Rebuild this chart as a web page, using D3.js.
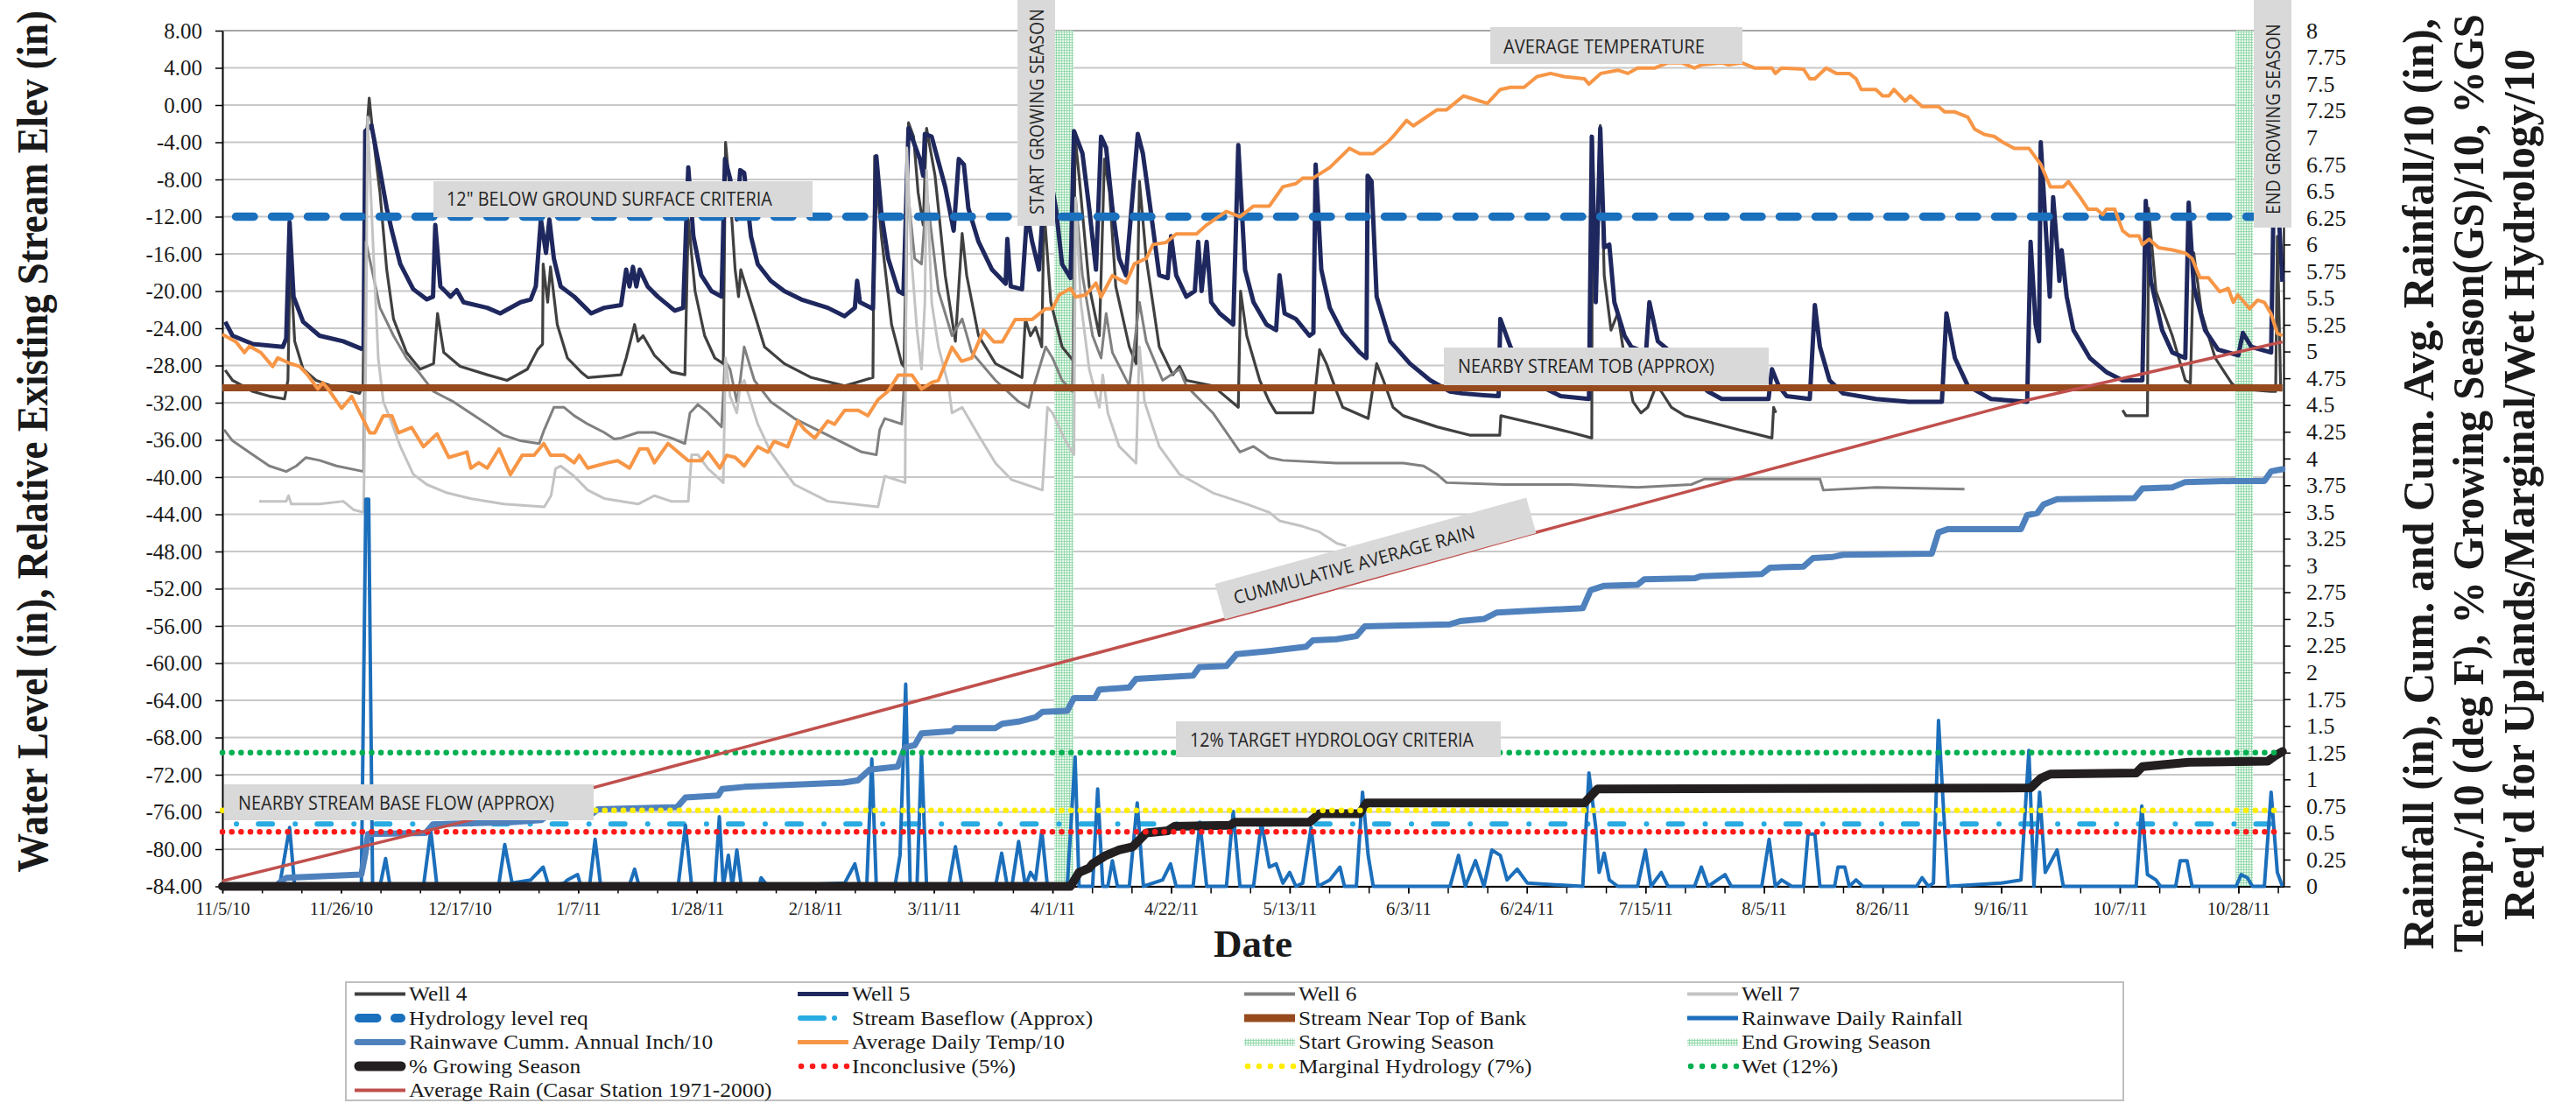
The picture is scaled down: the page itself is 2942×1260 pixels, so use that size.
<!DOCTYPE html>
<html><head><meta charset="utf-8">
<script src="https://cdn.jsdelivr.net/npm/d3@7"></script>
<style>body{margin:0;background:#fff}svg{display:block}</style>
</head><body>
<svg id="chart" width="2942" height="1260"></svg>
<script>
// ---------------- DATA (x = days since START_DATE) ----------------
const START_DATE = "11/5/10";
const END_DAY = 365;
const xTickLabels = ["11/5/10","11/26/10","12/17/10","1/7/11","1/28/11","2/18/11","3/11/11","4/1/11","4/22/11","5/13/11","6/3/11","6/24/11","7/15/11","8/5/11","8/26/11","9/16/11","10/7/11","10/28/11"];
const leftTickLabels = ["8.00","4.00","0.00","-4.00","-8.00","-12.00","-16.00","-20.00","-24.00","-28.00","-32.00","-36.00","-40.00","-44.00","-48.00","-52.00","-56.00","-60.00","-64.00","-68.00","-72.00","-76.00","-80.00","-84.00"];
const rightTickLabels = ["8","7.75","7.5","7.25","7","6.75","6.5","6.25","6","5.75","5.5","5.25","5","4.75","4.5","4.25","4","3.75","3.5","3.25","3","2.75","2.5","2.25","2","1.75","1.5","1.25","1","0.75","0.5","0.25","0"];

const well4 = [[0.5,-28.5],[1.8,-29.6],[5.4,-30.8],[8.3,-31.3],[11.0,-31.6],[11.6,-29.6],[12.0,-16.5],[12.8,-25.4],[14.3,-28.4],[16.6,-29.6],[20.2,-30.4],[24.3,-31.0],[24.9,-30.2],[25.5,-3.4],[26.0,0.75],[26.7,-3.4],[27.9,-9.4],[29.1,-17.7],[30.3,-23.0],[32.6,-26.6],[35.0,-28.4],[37.4,-27.8],[38.1,-22.4],[39.2,-26.6],[42.1,-28.1],[46.9,-29.0],[50.4,-29.6],[54.0,-28.4],[55.8,-26.3],[56.7,-25.7],[56.8,-17.1],[57.6,-21.2],[58.1,-17.4],[59.3,-23.6],[61.1,-27.2],[63.5,-28.7],[64.7,-29.3],[70.6,-29.0],[71.5,-27.2],[73.0,-23.6],[73.6,-25.4],[74.5,-24.8],[76.5,-26.9],[79.5,-28.7],[81.9,-29.0],[82.5,-12.3],[83.7,-20.0],[85.4,-24.8],[87.2,-27.2],[88.7,-27.8],[89.1,-4.0],[89.9,-9.4],[90.8,-17.7],[91.4,-20.6],[91.8,-17.7],[92.4,-18.9],[94.2,-22.4],[96.0,-26.0],[99.5,-27.8],[104.3,-29.3],[110.2,-30.2],[115.2,-29.3],[115.5,-5.5],[116.7,-14.1],[118.5,-23.6],[120.3,-27.8],[120.7,-28.1],[121.5,-1.9],[122.4,-3.4],[123.2,-9.4],[124.1,-12.9],[124.7,-2.5],[126.2,-7.6],[128.0,-18.3],[129.8,-25.4],[131.0,-13.8],[131.8,-18.3],[133.9,-24.8],[136.9,-27.8],[141.6,-29.3],[142.2,-23.0],[143.1,-24.8],[144.0,-23.9],[145.1,-26.0],[145.5,-11.1],[146.7,-21.2],[148.7,-26.0],[150.7,-27.5],[151.0,-3.4],[151.7,-7.6],[153.5,-19.5],[155.3,-24.8],[156.2,-5.8],[157.1,-9.4],[158.2,-19.5],[160.6,-26.0],[161.8,-27.8],[162.4,-8.2],[163.6,-16.5],[165.9,-26.0],[168.3,-29.0],[169.5,-28.1],[170.7,-29.6],[175.4,-30.2],[179.9,-32.5],[180.3,-20.0],[181.4,-24.8],[183.7,-29.6],[185.4,-31.9],[186.6,-33.1],[193.1,-33.1],[194.3,-26.3],[195.5,-27.8],[197.3,-30.8],[198.4,-32.5],[202.9,-33.7],[204.4,-27.8],[205.6,-29.6],[207.3,-32.5],[209.1,-33.4],[215.1,-34.6],[221.0,-35.5],[226.2,-35.5],[226.4,-33.4],[232.8,-34.3],[238.8,-35.2],[242.5,-35.8],[242.6,-3.4],[243.2,-21.2],[244.0,-2.2],[244.7,-18.3],[245.9,-24.2],[247.1,-22.4],[248.3,-27.2],[249.8,-31.9],[251.2,-33.1],[252.4,-32.5],[253.9,-30.2],[254.8,-30.8],[256.6,-32.5],[259.0,-33.4],[268.4,-34.9],[274.4,-35.8],[274.7,-32.5],[275.1,-33.1],[275.6,null],[336.5,-32.8],[337.1,-33.4],[340.9,-33.4],[341.1,-11.1],[342.4,-20.0],[345.3,-24.8],[347.6,-29.6],[348.5,-29.9],[349.1,-15.9],[350.5,-22.4],[352.9,-27.2],[355.8,-29.9],[356.9,-30.5],[362.8,-30.8],[363.6,-30.8],[363.9,-14.1],[364.5,-30.8]];

const well5 = [[0.5,-23.3],[1.8,-24.8],[5.4,-25.7],[10.7,-26.0],[11.3,-25.1],[11.9,-12.6],[12.6,-20.6],[14.3,-23.3],[17.2,-24.8],[21.4,-25.4],[24.6,-26.2],[25.0,-26.0],[25.3,-2.8],[26.4,-2.2],[27.9,-7.0],[29.1,-11.1],[30.0,-13.5],[31.5,-17.1],[33.8,-19.8],[36.2,-20.9],[37.3,-20.6],[37.7,-12.9],[38.6,-19.5],[40.4,-20.6],[41.5,-19.9],[42.7,-21.2],[46.9,-21.8],[49.2,-22.4],[52.8,-21.2],[54.6,-20.9],[55.5,-19.5],[56.4,-12.3],[57.3,-15.9],[57.9,-12.3],[58.7,-16.5],[59.9,-19.5],[62.3,-20.6],[65.3,-22.4],[67.6,-21.8],[70.6,-21.5],[71.5,-17.7],[72.1,-19.5],[72.7,-17.4],[73.3,-19.5],[73.9,-17.7],[75.3,-19.5],[77.1,-20.6],[80.1,-22.1],[81.6,-21.8],[82.5,-6.7],[83.4,-14.1],[84.8,-18.3],[86.6,-20.0],[88.4,-20.6],[89.0,-5.8],[89.9,-7.9],[91.1,-12.3],[91.7,-7.0],[92.4,-7.3],[93.6,-14.1],[94.8,-17.1],[97.1,-18.9],[99.5,-20.0],[102.5,-20.9],[107.2,-21.8],[110.2,-22.7],[112.0,-21.8],[112.4,-18.9],[112.9,-21.2],[115.2,-21.9],[115.8,-5.5],[116.7,-11.7],[117.9,-16.5],[119.7,-20.0],[120.6,-20.3],[121.5,-2.5],[122.6,-4.3],[123.5,-5.8],[124.1,-7.6],[124.4,-3.1],[125.6,-3.4],[126.8,-6.1],[128.0,-8.8],[129.5,-13.5],[130.4,-5.8],[131.3,-6.4],[132.1,-11.1],[133.9,-14.7],[136.3,-17.7],[138.7,-19.2],[139.0,-14.4],[139.6,-19.5],[141.6,-19.8],[142.5,-11.7],[143.4,-14.7],[144.6,-17.7],[145.5,-9.4],[146.4,-7.0],[147.6,-11.1],[148.7,-17.1],[150.2,-18.6],[150.8,-2.8],[152.3,-5.2],[153.5,-11.1],[154.7,-17.7],[155.6,-3.4],[156.5,-4.6],[157.6,-11.1],[158.8,-16.5],[160.0,-18.3],[162.1,-3.1],[163.0,-5.2],[164.2,-10.5],[165.9,-18.3],[167.4,-18.6],[168.0,-14.1],[168.9,-18.3],[170.7,-20.6],[172.2,-20.0],[172.8,-14.7],[173.4,-20.0],[174.3,-14.7],[175.1,-21.2],[176.6,-22.4],[179.0,-23.6],[179.9,-4.3],[181.1,-17.7],[182.6,-21.2],[184.9,-23.6],[186.6,-24.2],[187.2,-18.3],[188.1,-22.4],[190.1,-23.0],[192.5,-24.8],[193.2,-24.5],[193.6,-6.4],[194.6,-17.7],[196.1,-21.8],[198.4,-24.5],[201.4,-26.6],[202.6,-27.2],[202.8,-7.6],[203.5,-8.2],[204.4,-20.6],[206.8,-25.4],[210.3,-27.8],[213.9,-29.6],[217.4,-30.8],[219.5,-31.0],[223.4,-31.2],[226.0,-31.3],[226.3,-23.0],[228.1,-26.0],[230.5,-28.4],[234.0,-30.4],[237.0,-31.3],[242.0,-31.6],[242.5,-3.4],[243.2,-21.2],[244.0,-2.5],[244.7,-15.3],[245.6,-15.0],[246.5,-21.2],[248.3,-24.8],[249.5,-26.0],[252.1,-26.6],[252.7,-21.2],[254.2,-25.4],[256.6,-26.6],[259.5,-28.9],[263.1,-30.8],[265.5,-31.6],[273.8,-31.6],[274.4,-28.4],[275.6,-30.2],[277.0,-31.3],[281.1,-31.6],[282.0,-21.5],[282.9,-26.0],[284.6,-29.6],[287.0,-31.0],[292.8,-31.6],[298.6,-31.9],[304.5,-31.9],[305.3,-22.4],[306.8,-27.2],[309.1,-30.2],[313.2,-31.6],[319.6,-31.9],[320.2,-14.7],[321.1,-23.6],[321.7,-25.4],[322.0,-4.0],[322.8,-12.3],[323.6,-20.6],[324.2,-9.9],[324.9,-15.3],[325.3,-18.9],[325.7,-15.6],[326.6,-20.6],[327.8,-24.2],[330.7,-27.2],[333.6,-28.7],[336.5,-29.6],[340.0,-29.6],[340.6,-10.3],[341.5,-18.9],[343.5,-24.2],[345.3,-26.6],[347.6,-27.2],[348.2,-10.5],[349.1,-19.5],[351.1,-24.2],[353.4,-26.3],[357.0,-26.9],[357.8,-24.5],[359.3,-26.0],[362.8,-26.6],[363.3,-8.0],[363.9,-9.0],[364.8,-19.0]];

const well6 = [[0.3,-34.9],[1.8,-36.1],[5.4,-37.6],[8.3,-38.8],[11.3,-39.4],[13.1,-38.8],[14.8,-37.9],[17.2,-38.2],[20.2,-38.8],[25.0,-39.4],[25.4,-14.7],[26.7,-18.3],[27.9,-21.8],[30.3,-24.8],[32.6,-27.2],[35.0,-28.9],[37.4,-30.8],[40.9,-31.9],[43.9,-33.1],[46.9,-34.3],[49.8,-35.5],[52.8,-36.1],[56.1,-36.4],[57.0,-34.9],[58.7,-32.5],[60.5,-32.5],[62.3,-33.4],[64.7,-34.3],[67.6,-35.2],[69.4,-35.9],[70.6,-35.8],[73.6,-35.2],[76.5,-35.2],[79.5,-35.8],[81.9,-36.4],[82.8,-33.1],[84.2,-32.2],[86.0,-33.1],[88.4,-34.6],[89.0,-27.5],[89.9,-28.4],[91.1,-31.9],[91.7,-29.6],[92.4,-26.0],[94.2,-29.6],[97.1,-31.9],[101.3,-33.7],[107.2,-35.5],[113.2,-37.3],[115.8,-37.6],[116.4,-34.9],[117.3,-33.7],[120.3,-34.3],[120.9,-28.1],[121.3,-8.8],[122.6,-16.5],[123.8,-17.1],[124.7,-9.4],[126.8,-20.0],[129.2,-24.8],[131.0,-23.0],[132.7,-26.6],[136.9,-29.6],[141.0,-31.9],[142.8,-32.5],[143.4,-30.8],[145.8,-26.0],[147.0,-27.2],[148.7,-29.6],[150.5,-30.8],[151.1,-10.0],[152.3,-18.3],[154.1,-24.8],[155.6,-27.2],[156.5,-22.4],[157.6,-26.6],[160.6,-30.2],[162.4,-21.2],[163.6,-25.4],[166.5,-29.6],[169.5,-28.4],[170.7,-30.2],[175.4,-33.1],[180.2,-37.3],[182.6,-36.7],[185.4,-37.9],[187.8,-38.2],[197.3,-38.5],[209.1,-38.5],[212.7,-38.8],[215.1,-39.7],[216.8,-40.6],[226.9,-40.8],[238.8,-40.8],[250.6,-41.1],[260.1,-40.8],[262.5,-40.2],[278.4,-40.2],[282.9,-40.2],[283.5,-41.4],[292.8,-41.1],[308.5,-41.3]];

const well7 = [[6.5,-42.6],[11.3,-42.6],[11.7,-42.0],[12.2,-42.9],[17.2,-42.9],[21.4,-42.6],[23.2,-43.5],[25.0,-43.8],[25.4,-27.2],[25.7,-1.3],[26.7,-15.3],[27.6,-27.2],[28.5,-31.9],[29.7,-33.7],[31.5,-36.7],[33.8,-39.7],[36.2,-40.8],[39.8,-41.7],[43.9,-42.3],[49.8,-42.9],[57.0,-43.2],[58.2,-42.0],[59.0,-39.1],[59.9,-38.8],[62.3,-39.9],[64.7,-41.4],[67.6,-42.3],[73.6,-42.9],[76.5,-42.0],[79.5,-42.6],[82.5,-42.6],[83.1,-37.6],[84.2,-37.6],[86.0,-39.1],[88.7,-40.6],[89.1,-27.2],[89.9,-31.3],[91.1,-33.1],[91.7,-30.2],[92.4,-29.6],[94.8,-34.3],[97.1,-37.3],[101.3,-40.8],[107.2,-42.6],[116.1,-43.2],[117.3,-39.9],[120.9,-40.6],[121.2,-4.6],[122.1,-17.1],[123.0,-24.2],[123.8,-28.4],[124.4,-21.2],[124.7,-7.0],[125.6,-21.2],[126.8,-26.0],[128.6,-30.2],[129.2,-33.1],[131.0,-32.5],[133.9,-35.5],[136.9,-38.5],[139.8,-40.3],[145.2,-41.4],[146.1,-32.5],[147.0,-33.1],[149.3,-36.1],[150.8,-37.6],[151.1,-10.0],[152.0,-21.2],[153.5,-28.4],[155.3,-32.5],[155.9,-29.0],[156.8,-33.1],[158.8,-36.7],[161.8,-38.5],[162.4,-26.0],[163.3,-31.9],[165.9,-36.7],[169.5,-39.7],[175.4,-41.7],[181.4,-42.9],[185.4,-43.8],[187.2,-44.7],[191.3,-45.3],[194.3,-45.9],[197.3,-47.1],[199.0,-47.4]];

const hydrologyReq = [[0,-12],[364.8,-12]];
const streamBaseflow = [[0,-77.3],[364.8,-77.3]];
const streamTopOfBank = [[0,-30.4],[364.8,-30.4]];

const dailyRain = [[10.1,0],[11.9,0.55],[12.8,0],[24.6,0],[25.4,3.62],[25.9,3.62],[26.6,0],[27.9,0],[28.9,0.26],[29.7,0],[35.6,0],[36.9,0.52],[38.0,0],[48.9,0],[50.0,0.39],[51.3,0.03],[54.6,0.06],[56.8,0.18],[57.8,0],[60.5,0.03],[61.1,0.06],[62.9,0.11],[63.5,0],[65.0,0],[66.0,0.44],[67.0,0],[72.0,0],[73.0,0.16],[73.8,0],[80.7,0],[82.0,0.57],[83.1,0],[87.2,0],[88.0,0.65],[88.7,0],[89.6,0.29],[90.3,0],[91.1,0.34],[91.9,0],[95.0,0],[95.4,0.08],[96.6,0],[110.2,0.03],[112.0,0.21],[112.9,0],[114.1,0],[115.0,1.19],[115.8,0],[119.1,0],[120.0,0.29],[121.0,1.89],[121.8,0],[123.0,0],[123.8,1.24],[124.7,0],[128.6,0],[129.8,0.37],[131.0,0],[136.9,0],[138.0,0.31],[139.0,0],[139.8,0],[141.0,0.42],[142.2,0],[143.1,0.13],[144.0,0.06],[145.1,0.52],[146.1,0],[149.6,0],[151.0,1.21],[151.7,0],[154.1,0],[155.0,0.91],[155.9,0],[156.8,0],[157.6,0.24],[158.5,0],[160.6,0],[162.0,0.78],[163.1,0],[166.5,0.06],[167.9,0.21],[168.9,0],[171.9,0],[173.1,0.60],[174.3,0],[177.8,0],[179.0,0.70],[180.2,0],[182.6,0],[184.0,0.60],[185.4,0.18],[186.6,0.21],[187.8,0.03],[189.0,0.13],[190.1,0],[191.3,0.03],[192.8,0.55],[194.0,0],[196.1,0.06],[197.9,0.18],[198.7,0],[200.8,0],[201.9,0.88],[202.9,0.29],[203.8,0],[217.4,0],[218.9,0.29],[220.1,0],[221.9,0.24],[223.4,0],[224.8,0.34],[226.3,0.29],[227.5,0.06],[229.3,0.16],[231.1,0.03],[240.9,0],[242.0,1.06],[243.2,0.55],[243.8,0.13],[244.7,0.31],[245.6,0.06],[247.1,0],[250.6,0],[252.0,0.34],[253.0,0],[254.8,0.13],[256.0,0],[260.7,0],[261.9,0.18],[263.1,0],[266.1,0.11],[267.2,0],[272.6,0],[273.9,0.44],[275.0,0],[276.1,0.06],[277.9,0],[280.0,0],[280.8,0.49],[282.0,0.49],[282.9,0],[285.5,0],[286.1,0.18],[287.3,0.18],[288.1,0],[289.3,0.06],[290.5,0],[300.0,0],[301.0,0.08],[302.1,0],[303.0,0.03],[303.9,1.55],[304.7,0.80],[305.6,0],[315.0,0.03],[318.5,0.06],[319.9,1.27],[320.8,0],[321.8,0.88],[322.8,0.13],[324.9,0.34],[326.0,0],[338.9,0],[339.9,0.75],[340.9,0.11],[342.4,0.06],[343.2,0],[345.9,0],[346.7,0.24],[347.9,0.24],[348.8,0],[356.6,0],[357.5,0.11],[358.6,0.08],[359.5,0],[361.6,0],[362.8,0.88],[363.9,0.13],[364.8,0]];

const cummRain = [[10.0,0.03],[11.3,0.08],[24.6,0.11],[25.3,0.30],[25.8,0.49],[36.0,0.50],[37.3,0.58],[51.0,0.60],[56.5,0.62],[57.5,0.66],[65.5,0.68],[66.5,0.72],[80.5,0.74],[82.0,0.83],[87.8,0.85],[88.5,0.91],[92.4,0.93],[110.0,0.97],[112.5,0.99],[114.6,1.09],[119.6,1.12],[120.3,1.22],[120.9,1.30],[122.6,1.32],[123.8,1.43],[129.2,1.45],[129.8,1.48],[136.9,1.48],[138.1,1.52],[141.0,1.54],[144.0,1.58],[145.2,1.63],[149.6,1.64],[150.8,1.76],[154.5,1.76],[155.3,1.84],[160.6,1.86],[161.8,1.94],[171.9,1.97],[173.0,2.05],[177.8,2.06],[179.6,2.17],[185.4,2.20],[191.9,2.24],[193.1,2.30],[197.3,2.31],[200.8,2.34],[202.3,2.43],[217.4,2.45],[219.2,2.48],[223.4,2.50],[225.7,2.56],[232.8,2.58],[240.9,2.60],[242.3,2.77],[244.7,2.81],[250.6,2.82],[251.8,2.87],[260.7,2.88],[261.9,2.90],[272.6,2.92],[274.1,2.98],[280.0,2.99],[281.7,3.07],[285.2,3.08],[287.0,3.10],[302.7,3.11],[303.9,3.31],[305.6,3.34],[318.5,3.34],[319.6,3.47],[321.4,3.49],[322.5,3.57],[324.9,3.62],[338.6,3.63],[340.0,3.72],[345.3,3.73],[347.6,3.78],[356.0,3.79],[361.6,3.79],[362.8,3.88],[364.8,3.90]];

const avgTemp = [[0.0,5.16],[2.4,5.09],[3.9,4.99],[4.8,5.05],[6.8,4.99],[8.9,4.86],[9.8,4.94],[11.9,4.89],[13.7,4.86],[15.1,4.78],[16.9,4.65],[17.8,4.71],[19.0,4.63],[21.1,4.47],[22.9,4.58],[24.9,4.37],[26.1,4.24],[27.0,4.24],[28.5,4.40],[30.0,4.40],[31.2,4.24],[33.5,4.29],[35.6,4.11],[38.0,4.23],[40.1,4.01],[43.3,4.06],[44.0,3.91],[45.4,3.96],[46.9,3.91],[49.0,4.09],[51.0,3.85],[53.1,4.03],[55.2,4.03],[56.9,4.14],[58.1,4.03],[60.5,4.03],[62.3,3.96],[63.2,4.03],[64.7,3.91],[68.2,3.96],[70.0,3.98],[72.1,3.91],[73.9,4.09],[75.3,4.09],[76.5,3.96],[78.9,4.14],[80.7,4.06],[82.5,3.98],[84.8,3.98],[86.0,4.06],[88.1,3.91],[89.3,4.03],[90.8,4.01],[92.4,3.93],[94.8,4.11],[96.6,4.06],[97.7,4.16],[100.1,4.11],[101.9,4.35],[103.1,4.27],[104.9,4.19],[107.2,4.35],[108.4,4.32],[110.2,4.45],[112.6,4.45],[114.3,4.40],[116.1,4.55],[117.9,4.63],[119.7,4.78],[122.1,4.78],[123.8,4.65],[125.6,4.71],[126.8,4.73],[129.2,5.04],[130.9,4.91],[132.7,4.94],[134.8,5.20],[136.6,5.09],[138.1,5.09],[140.4,5.30],[143.4,5.30],[145.8,5.40],[147.0,5.40],[148.2,5.53],[150.2,5.59],[151.1,5.51],[152.9,5.53],[154.7,5.64],[155.6,5.51],[157.6,5.71],[160.0,5.64],[161.5,5.82],[163.6,5.87],[164.8,6.00],[167.1,6.02],[168.9,6.10],[172.5,6.10],[174.2,6.18],[177.8,6.31],[180.2,6.26],[182.6,6.36],[185.4,6.36],[187.8,6.54],[190.1,6.57],[191.3,6.62],[193.1,6.62],[196.1,6.72],[199.6,6.90],[201.4,6.85],[203.8,6.85],[206.2,6.95],[207.3,7.01],[209.7,7.16],[210.9,7.11],[215.1,7.26],[216.8,7.26],[219.8,7.39],[221.0,7.37],[224.0,7.32],[226.3,7.45],[228.1,7.47],[230.5,7.47],[232.8,7.57],[235.2,7.60],[237.6,7.57],[241.2,7.55],[242.0,7.50],[244.1,7.60],[247.1,7.63],[248.9,7.60],[250.6,7.65],[253.6,7.65],[256.0,7.70],[258.4,7.70],[260.7,7.65],[261.9,7.68],[265.5,7.70],[266.7,7.68],[269.0,7.70],[271.4,7.65],[274.4,7.65],[275.0,7.60],[276.1,7.65],[280.0,7.64],[281.1,7.55],[282.0,7.55],[284.0,7.65],[285.8,7.60],[288.1,7.60],[289.3,7.55],[290.2,7.45],[292.8,7.45],[294.0,7.39],[295.1,7.39],[296.0,7.45],[298.0,7.34],[298.9,7.39],[301.0,7.29],[303.9,7.29],[305.0,7.24],[306.8,7.24],[309.1,7.19],[310.3,7.08],[312.0,7.03],[313.8,7.01],[315.5,6.95],[317.3,6.90],[319.9,6.90],[322.0,6.75],[323.7,6.54],[326.0,6.54],[326.9,6.59],[329.0,6.44],[330.4,6.33],[331.9,6.33],[333.0,6.28],[333.6,6.33],[335.1,6.33],[336.5,6.13],[337.7,6.08],[339.4,6.08],[340.0,6.00],[341.2,6.05],[342.9,5.97],[345.3,5.95],[347.6,5.92],[348.8,5.87],[350.2,5.69],[351.7,5.69],[353.7,5.56],[355.2,5.59],[356.1,5.46],[356.9,5.53],[359.0,5.40],[360.4,5.48],[361.6,5.46],[362.8,5.35],[363.9,5.17],[364.8,5.15]];

const pctGrowingSeason = [[0,0],[150.2,0],[151.7,0.13],[153.5,0.17],[154.1,0.21],[156.5,0.29],[158.8,0.34],[161.2,0.37],[162.5,0.44],[163.6,0.50],[167.4,0.52],[168.6,0.56],[178.4,0.57],[179.3,0.60],[192.5,0.60],[194.3,0.68],[201.4,0.68],[202.6,0.78],[241.2,0.78],[243.5,0.91],[320.2,0.92],[322.0,1.01],[323.7,1.05],[338.9,1.06],[340.0,1.12],[348.2,1.16],[362.2,1.17],[363.5,1.22],[364.8,1.26]];

const inconclusive5 = [[0,0.51],[363.9,0.51]];
const marginal7 = [[0,0.71],[363.9,0.71]];
const wet12 = [[0,1.25],[363.9,1.25]];
const avgRainCasar = [[0,0.05],[47,0.66],[92.4,1.30],[139.8,1.97],[185.4,2.61],[232,3.30],[278.4,3.96],[320,4.55],[364.8,5.09]];

const startGrowingBand = [147.3,150.7];
const endGrowingBand = [356.5,359.6];

const legendNames = ["Well 4","Well 5","Well 6","Well 7","Hydrology level req","Stream Baseflow (Approx)","Stream Near Top of Bank","Rainwave Daily Rainfall","Rainwave Cumm. Annual Inch/10","Average Daily Temp/10","Start Growing Season","End Growing Season","% Growing Season","Inconclusive (5%)","Marginal Hydrology (7%)","Wet (12%)","Average Rain (Casar Station 1971-2000)"];

// ---------------- CHART ----------------
const svg = d3.select("#chart");
const M = {left:254, right:2608, top:35, bottom:1012.5};
const parse = d3.utcParse("%m/%d/%y");
const t0 = parse(START_DATE);
const toDate = d => new Date(t0.getTime() + d*864e5);
const x = d3.scaleUtc().domain([t0, toDate(END_DAY)]).range([M.left, M.right]);
const yL = d3.scaleLinear().domain([-84, 8]).range([M.bottom, M.top]);
const yR = d3.scaleLinear().domain([0, 8]).range([M.bottom, M.top]);
const SERIF = "'Liberation Serif','Times New Roman',serif";
const SANS = "'Open Sans','Noto Sans',sans-serif";

const defs = svg.append("defs");
const pat = defs.append("pattern").attr("id","gsHatch").attr("width",3).attr("height",3).attr("patternUnits","userSpaceOnUse");
pat.append("rect").attr("width",3).attr("height",3).attr("fill","#e9f8ee");
pat.append("path").attr("d","M0 0.5H3M0.5 0V3").attr("stroke","#7fd19b").attr("stroke-width",0.7);

// gridlines
const leftVals = leftTickLabels.map(Number);
svg.append("g").selectAll("line").data(leftVals).join("line")
  .attr("x1",M.left).attr("x2",M.right)
  .attr("y1",d=>yL(d)).attr("y2",d=>yL(d))
  .attr("stroke",d=>d===8?"#a6a6a6":"#c8c8c8").attr("stroke-width",2);

// growing season bands
[startGrowingBand, endGrowingBand].forEach(b=>{
  svg.append("rect").attr("x",x(toDate(b[0]))).attr("y",M.top)
    .attr("width",x(toDate(b[1]))-x(toDate(b[0]))).attr("height",M.bottom-M.top)
    .attr("fill","url(#gsHatch)");
});

// axes
const axL = svg.append("g").attr("transform",`translate(${M.left},0)`)
  .call(d3.axisLeft(yL).tickValues(leftVals).tickFormat((d,i)=>leftTickLabels[i]).tickSize(8).tickSizeOuter(0).tickPadding(15));
const rightVals = rightTickLabels.map(Number);
const axR = svg.append("g").attr("transform",`translate(${M.right},0)`)
  .call(d3.axisRight(yR).tickValues(rightVals).tickFormat((d,i)=>rightTickLabels[i]).tickSize(8).tickSizeOuter(0).tickPadding(18));
const minorDays = d3.range(0, END_DAY, 7);
const axMinor = svg.append("g").attr("transform",`translate(0,${M.bottom})`)
  .call(d3.axisBottom(x).tickValues(minorDays.map(toDate)).tickFormat("").tickSize(8).tickSizeOuter(0));
const axB = svg.append("g").attr("transform",`translate(0,${M.bottom})`)
  .call(d3.axisBottom(x).tickValues(xTickLabels.map(parse)).tickFormat(d3.utcFormat("%-m/%-d/%y")).tickSize(8).tickSizeOuter(0));
[axL,axR,axMinor,axB].forEach(a=>{
  a.select(".domain").attr("stroke","#000").attr("stroke-width",2);
  a.selectAll(".tick line").attr("stroke","#000").attr("stroke-width",1.5);
});
axL.selectAll("text").attr("font-family",SERIF).attr("font-size",25).attr("fill","#1a1a1a");
axR.selectAll("text").attr("font-family",SERIF).attr("font-size",26).attr("fill","#1a1a1a");
axB.selectAll("text").attr("font-family",SERIF).attr("font-size",20.5).attr("fill","#1a1a1a").attr("y",32).attr("dy",0);

// series
const lineL = d3.line().defined(d=>d[1]!=null).x(d=>x(toDate(d[0]))).y(d=>yL(d[1]));
const lineR = d3.line().defined(d=>d[1]!=null).x(d=>x(toDate(d[0]))).y(d=>yR(d[1]));
const series = [
  {d:well4, g:lineL, c:"#404040", w:3.2},
  {d:well5, g:lineL, c:"#1f285e", w:5},
  {d:well6, g:lineL, c:"#808080", w:3},
  {d:well7, g:lineL, c:"#c3c3c3", w:3},
  {d:hydrologyReq, g:lineL, c:"#1a70bd", w:9.5, dash:"20.5 20.5", off:25.5, cap:"round"},
  {d:streamBaseflow, g:lineL, c:"#29abe2", w:6, dash:"16 26 0.1 25", off:26, cap:"round"},
  {d:streamTopOfBank, g:lineL, c:"#974a1e", w:8},
  {d:dailyRain, g:lineR, c:"#1c6fbb", w:4},
  {d:cummRain, g:lineR, c:"#4f81bd", w:7, cap:"round"},
  {d:avgTemp, g:lineR, c:"#f79646", w:4},
  {d:pctGrowingSeason, g:lineR, c:"#231f20", w:10, cap:"round"},
  {d:inconclusive5, g:lineR, c:"#ff1a1a", w:6.5, dash:"0.1 10.55", cap:"round"},
  {d:marginal7, g:lineR, c:"#ffee00", w:6.5, dash:"0.1 10.55", cap:"round"},
  {d:wet12, g:lineR, c:"#00b050", w:6.5, dash:"0.1 10.55", cap:"round"},
  {d:avgRainCasar, g:lineR, c:"#c0504d", w:3.5}
];
series.forEach(s=>{
  svg.append("path").datum(s.d).attr("d",s.g).attr("fill","none")
    .attr("stroke",s.c).attr("stroke-width",s.w)
    .attr("stroke-linejoin","round").attr("stroke-linecap",s.cap||"butt")
    .attr("stroke-dasharray",s.dash||null).attr("stroke-dashoffset",s.off||0);
});

// fit a text to a target length by font size, then restore glyph height with a scale
function fitText(g, txt, len, size, family, weight, anchor){
  const t = g.append("text").text(txt).attr("font-family",family).attr("font-size",size)
    .attr("font-weight",weight||"normal").attr("text-anchor",anchor||"start").attr("fill","#262626");
  const L = t.node().getComputedTextLength();
  const f = size*len/L;
  t.attr("font-size",f).attr("transform",`scale(1,${size/f})`);
  return t;
}

// annotation boxes
const BOX="#d9d9d9";
function annot(r, txt, tx, ty, len){
  svg.append("rect").attr("x",r[0]).attr("y",r[1]).attr("width",r[2]-r[0]).attr("height",r[3]-r[1]).attr("fill",BOX);
  const g = svg.append("g").attr("transform",`translate(${tx},${ty})`);
  fitText(g, txt, len, 21, SANS);
}
annot([495,207,928,248],'12" BELOW GROUND SURFACE CRITERIA',510,235,372);
annot([1702,31,1990,73],"AVERAGE TEMPERATURE",1717,61,230);
annot([1649,397,2020,440],"NEARBY STREAM TOB (APPROX)",1665,426,293);
annot([1343,824,1714,865],"12% TARGET HYDROLOGY CRITERIA",1359,853,324);
annot([256,896,678,937],"NEARBY STREAM BASE FLOW (APPROX)",272,925,361);
// rotated cumulative box
const cg = svg.append("g").attr("transform","translate(1571,638) rotate(-15.5)");
cg.append("rect").attr("x",-184.5).attr("y",-21).attr("width",369).attr("height",42).attr("fill",BOX);
fitText(cg.append("g").attr("transform","translate(-168,8)"), "CUMMULATIVE AVERAGE RAIN", 285, 21, SANS);
// vertical growing-season labels
function vAnnot(r, txt, bx, by, len){
  svg.append("rect").attr("x",r[0]).attr("y",r[1]).attr("width",r[2]-r[0]).attr("height",r[3]-r[1]).attr("fill",BOX);
  const g = svg.append("g").attr("transform",`translate(${bx},${by}) rotate(-90)`);
  fitText(g, txt, len, 21, SANS);
}
vAnnot([1162,0,1205,258],"START GROWING SEASON",1192,245,235);
vAnnot([2574,0,2617,260],"END GROWING SEASON",2604,245,218);

// axis titles
fitText(svg.append("g").attr("transform","translate(54,504.5) rotate(-90)"),
  "Water Level (in), Relative Existing Stream Elev (in)", 985, 50, SERIF, "bold", "middle").attr("fill","#1a1a1a");
const rTitle = [
  ["Rainfall (in), Cum. and Cum. Avg. Rainfall/10 (in),",2779,553,1064],
  ["Temp./10 (deg F), % Growing Season(GS)/10, %GS",2836,552,1072],
  ["Req'd for Uplands/Marginal/Wet Hydrology/10",2894,553.5,995]
];
rTitle.forEach(t=>{
  fitText(svg.append("g").attr("transform",`translate(${t[1]},${t[2]}) rotate(-90)`), t[0], t[3], 50, SERIF, "bold", "middle").attr("fill","#1a1a1a");
});
svg.append("text").attr("x",(M.left+M.right)/2).attr("y",1093).attr("text-anchor","middle")
  .attr("font-family",SERIF).attr("font-weight","bold").attr("font-size",45).attr("fill","#1a1a1a").text("Date");

// legend
const lg = svg.append("g");
lg.append("rect").attr("x",395).attr("y",1122).attr("width",2030).attr("height",135)
  .attr("fill","#fff").attr("stroke","#bfbfbf").attr("stroke-width",2);
const colX = [405,911,1421,1927], rowY = [1135.5,1163,1190.5,1218,1245.5];
const legStyle = {
  "Well 4":{c:"#404040",w:4},
  "Well 5":{c:"#1f285e",w:5},
  "Well 6":{c:"#808080",w:4},
  "Well 7":{c:"#c3c3c3",w:4},
  "Hydrology level req":{c:"#1a70bd",w:10,dash:"20.5 20.5",cap:"round",x0:5,x1:53},
  "Stream Baseflow (Approx)":{c:"#29abe2",w:6,dash:"27 12 0.1 50",cap:"round",x0:3,x1:46},
  "Stream Near Top of Bank":{c:"#974a1e",w:9},
  "Rainwave Daily Rainfall":{c:"#1c6fbb",w:5},
  "Rainwave Cumm. Annual Inch/10":{c:"#4f81bd",w:7,cap:"round",x0:3,x1:55},
  "Average Daily Temp/10":{c:"#f79646",w:5},
  "Start Growing Season":{hatch:true},
  "End Growing Season":{hatch:true},
  "% Growing Season":{c:"#231f20",w:11,cap:"round",x0:5,x1:53},
  "Inconclusive (5%)":{c:"#ff1a1a",w:6.5,dash:"0.1 12.9",cap:"round",x0:4,x1:56},
  "Marginal Hydrology (7%)":{c:"#ffee00",w:6.5,dash:"0.1 12.9",cap:"round",x0:4,x1:56},
  "Wet (12%)":{c:"#00b050",w:6.5,dash:"0.1 12.9",cap:"round",x0:4,x1:56},
  "Average Rain (Casar Station 1971-2000)":{c:"#c0504d",w:4}
};
legendNames.forEach((name,i)=>{
  const cx = colX[i%4], cy = rowY[Math.floor(i/4)], st = legStyle[name];
  if (st.hatch) {
    lg.append("rect").attr("x",cx).attr("y",cy-4).attr("width",58).attr("height",8).attr("fill","url(#gsHatch)");
  } else {
    lg.append("line").attr("x1",cx+(st.x0||0)).attr("x2",cx+(st.x1!=null?st.x1:58)).attr("y1",cy).attr("y2",cy)
      .attr("stroke",st.c).attr("stroke-width",st.w).attr("stroke-linecap",st.cap||"butt")
      .attr("stroke-dasharray",st.dash||null);
  }
  lg.append("text").attr("transform",`translate(${cx+62},${cy+7.5}) scale(1.13,1)`).text(name)
    .attr("font-family",SERIF).attr("font-size",22.5).attr("fill","#1a1a1a");
});
</script>
</body></html>
